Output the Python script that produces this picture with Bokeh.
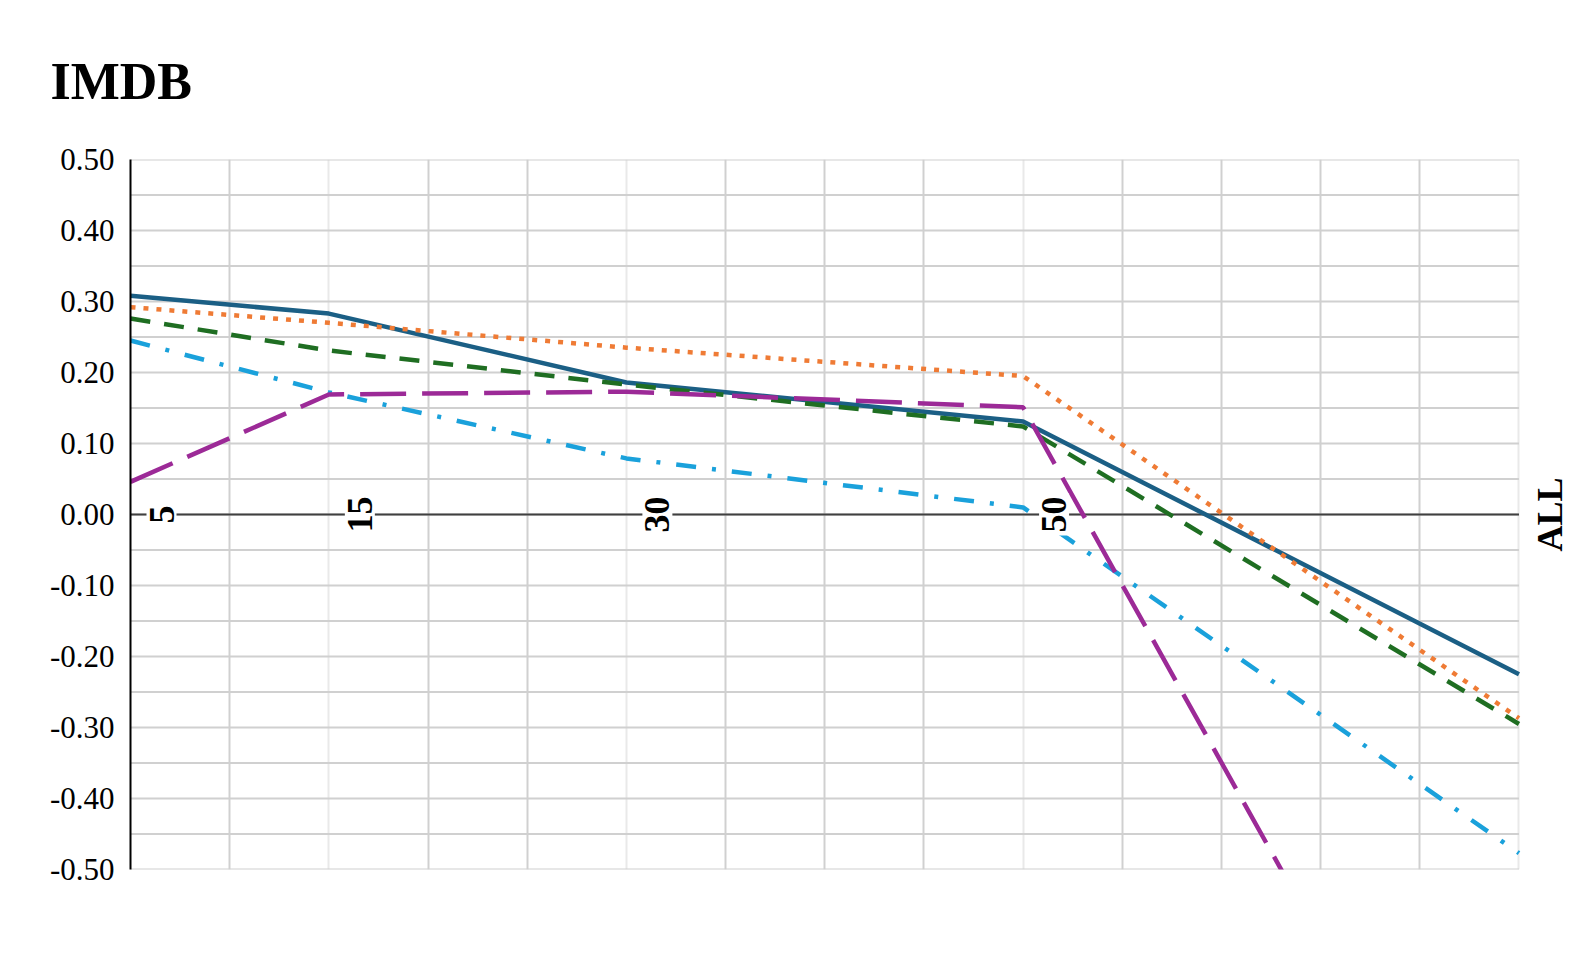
import math
from bokeh.plotting import figure
from bokeh.models import Label, Grid, FixedTicker, NumeralTickFormatter, Range1d, Title
from bokeh.embed import file_html
from bokeh.resources import INLINE

# ---- data ----
categories = ["5", "15", "30", "50", "ALL"]
x_values = [5, 15, 30, 50, 75]
series_solid_blue = [0.308, 0.283, 0.186, 0.131, -0.225]
series_dot_orange = [0.292, 0.270, 0.235, 0.195, -0.287]
series_dash_green = [0.276, 0.231, 0.183, 0.124, -0.295]
series_dashdot_cyan = [0.245, 0.172, 0.079, 0.010, -0.477]
series_longdash_purple = [0.046, 0.169, 0.173, 0.151, -1.10]
y_ticks = [-0.5, -0.4, -0.3, -0.2, -0.1, 0.0, 0.1, 0.2, 0.3, 0.4, 0.5]

FONT = "Liberation Serif"
X_MIN, X_MAX = x_values[0], x_values[-1]

# the frame extends a little past the last category so that the "ALL" label fits inside it
p = figure(width=1578, height=960, output_backend="svg", toolbar_location=None,
           x_range=Range1d(X_MIN, 77.9), y_range=Range1d(-0.5, 0.5),
           min_border_left=130, min_border_right=2, min_border_top=159, min_border_bottom=91)
p.outline_line_color = None
p.background_fill_color = "white"
p.border_fill_color = "white"

# title
p.title = Title(text="IMDB", align="left", offset=-80, standoff=99,
                text_font=FONT, text_font_size="52px", text_font_style="bold",
                text_color="black")

# axes
p.xaxis.visible = False
p.yaxis.ticker = FixedTicker(ticks=y_ticks)
p.yaxis.formatter = NumeralTickFormatter(format="0.00")
p.yaxis.major_tick_line_color = None
p.yaxis.minor_tick_line_color = None
p.yaxis.axis_line_color = "black"
p.yaxis.axis_line_width = 2
p.yaxis.major_label_text_font = FONT
p.yaxis.major_label_text_font_size = "31px"
p.yaxis.major_label_text_color = "black"
p.yaxis.major_label_standoff = 10

# horizontal grid lines (every 0.05), limited to the category span
p.ygrid.visible = False
minor_y = [round(-0.5 + 0.05 * i, 2) for i in range(21)]
p.segment(x0=[X_MIN] * len(minor_y), x1=[X_MAX] * len(minor_y), y0=minor_y, y1=minor_y,
          line_color="#d0d0d0", line_width=2)

# vertical grid lines
other_x = [v for v in range(10, 76, 5) if v not in x_values]
p.xgrid.ticker = FixedTicker(ticks=other_x)
p.xgrid.grid_line_color = "#d0d0d0"
p.xgrid.grid_line_width = 2
cat_grid = Grid(dimension=0, ticker=FixedTicker(ticks=x_values[1:]),
                grid_line_color="#e9e9e9", grid_line_width=2)
p.add_layout(cat_grid)

# zero line
p.segment(x0=[X_MIN], x1=[X_MAX], y0=[0], y1=[0], line_color="#404040", line_width=2)

# series
p.line(x_values, series_solid_blue, line_color="#1b5f85", line_width=4.5)
p.line(x_values, series_dot_orange, line_color="#ef7b35", line_width=4.5, line_dash="5 8")
p.line(x_values, series_dash_green, line_color="#1f6e22", line_width=4.5, line_dash="20 14")
p.line(x_values, series_dashdot_cyan, line_color="#1aa1db", line_width=4.5, line_dash="20 16 4 16")
p.line(x_values, series_longdash_purple, line_color="#9c2a97", line_width=4.5, line_dash="46 16")

# category labels on the zero line
for cx, ct in zip(x_values, categories):
    p.add_layout(Label(x=cx, y=0, text=ct, x_offset=31, angle=math.pi / 2,
                       text_align="center", text_baseline="middle",
                       text_font=FONT, text_font_size="36px", text_font_style="bold",
                       text_color="black", background_fill_color="white",
                       padding=3))

open("out.html", "w").write(file_html(p, INLINE))
